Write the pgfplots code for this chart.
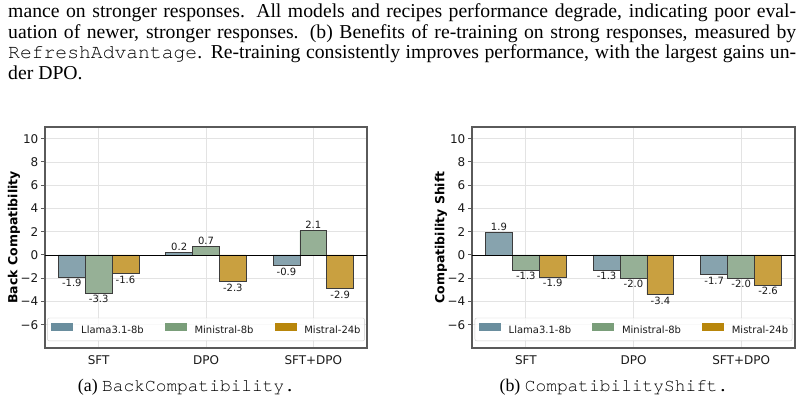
\documentclass[border=0pt]{standalone}
\usepackage{fontspec}
\setmainfont{Liberation Serif}
\setmonofont{TeX Gyre Cursor}
\newfontfamily\dejavu{DejaVu Sans}
\usepackage{pgfplots}
\pgfplotsset{compat=1.18}

\definecolor{llama}{HTML}{87A3AE}
\definecolor{llamaL}{HTML}{6A8E9E}
\definecolor{minis}{HTML}{96B096}
\definecolor{minisL}{HTML}{7A9E7A}
\definecolor{mistral}{HTML}{C9A040}
\definecolor{mistralL}{HTML}{B8860B}
\definecolor{edgegray}{HTML}{3C3C3C}
\definecolor{gridgray}{HTML}{E3E3E3}
\definecolor{framegray}{HTML}{5A5A5A}
\definecolor{legendgray}{HTML}{CCCCCC}
\definecolor{txt}{HTML}{1A1A1A}

\pgfplotsset{
  compatbars/.style={
    scale only axis, width=322pt, height=221pt,
    anchor=south west,
    xmin=-0.5, xmax=2.5, ymin=-8, ymax=11,
    ybar=0pt, bar width=0.25,
    xtick={0,1,2}, xticklabels={SFT,DPO,SFT+DPO},
    ytick={-6,-4,-2,0,2,4,6,8,10},
    yticklabels={−6,−4,−2,0,2,4,6,8,10},
    tick pos=left, tick align=outside, major tick length=4pt,
    xtick style={draw=none},
    ytick style={draw=framegray, line width=1pt},
    grid=major, major grid style={draw=gridgray, line width=0.8pt},
    axis line style={draw=framegray, line width=1.2pt},
    xticklabel style={font=\dejavu\fontsize{12}{14}\selectfont, text=txt,
      anchor=north, inner sep=0pt, yshift=-3.5pt},
    yticklabel style={font=\dejavu\fontsize{12}{14}\selectfont, text=txt,
      anchor=east, inner sep=0pt, xshift=-2.5pt},
    every axis y label/.style={at={(rel axis cs:0,0.5)}, xshift=-31pt,
      rotate=90, anchor=center,
      font=\dejavu\bfseries\fontsize{12.5}{14}\selectfont, text=black},
    % value labels: above positive bars, below negative ones
    nodes near coords, point meta=explicit symbolic,
    visualization depends on={rawy \as \rawy},
    every node near coord/.append style={font=\dejavu\fontsize{10}{12}\selectfont,
      text=txt, inner sep=1.8pt,
      anchor=\ifdim\rawy pt<0pt north\else south\fi},
    legend columns=3,
    legend style={at={(0.5,0.084)}, anchor=center, draw=legendgray,
      rounded corners=2pt, fill=white, fill opacity=0.8, text opacity=1,
      font=\dejavu\fontsize{10}{12}\selectfont, text=txt,
      inner xsep=4pt, inner ysep=5.5pt, nodes={inner sep=0pt},
      /tikz/every odd column/.append style={column sep=8pt},
      /tikz/every even column/.append style={column sep=21pt}},
  },
  llamabar/.style={fill=llama, draw=edgegray, line width=0.8pt,
    legend image code/.code={\fill[llamaL, sharp corners, fill opacity=1]
      (0pt,0pt) rectangle (21pt,7pt);}},
  minisbar/.style={fill=minis, draw=edgegray, line width=0.8pt,
    legend image code/.code={\fill[minisL, sharp corners, fill opacity=1]
      (0pt,0pt) rectangle (21pt,7pt);}},
  mistralbar/.style={fill=mistral, draw=edgegray, line width=0.8pt,
    legend image code/.code={\fill[mistralL, sharp corners, fill opacity=1]
      (0pt,0pt) rectangle (21pt,7pt);}},
}

\newcommand\bodyline[2]{%
  \node[anchor=base west, inner sep=0pt] at (8pt,#1)
    {\fontsize{19.7}{20.5}\selectfont\hbox to 788pt{#2}};}

\begin{document}
\begin{tikzpicture}
\path[fill=white, use as bounding box] (0pt,0pt) rectangle (804pt,-402pt);

% caption paragraph
\bodyline{-17.3pt}{mance on stronger responses.  All models and recipes performance degrade, indicating poor eval-}
\bodyline{-38pt}{uation of newer, stronger responses.  (b) Benefits of re-training on strong responses, measured by}
\bodyline{-58.8pt}{\texttt{RefreshAdvantage}. Re-training consistently improves performance, with the largest gains un-}
\node[anchor=base west, inner sep=0pt] at (8pt,-79.3pt)
  {\fontsize{19.7}{20.5}\selectfont der DPO.};

% (a) BackCompatibility
\begin{axis}[compatbars, at={(45pt,-348pt)}, ylabel={Back Compatibility}]
\addplot[llamabar] coordinates {(0,-1.9)[-1.9] (1,0.2)[0.2] (2,-0.9)[-0.9]};
\addplot[minisbar] coordinates {(0,-3.3)[-3.3] (1,0.7)[0.7] (2,2.1)[2.1]};
\addplot[mistralbar] coordinates {(0,-1.6)[-1.6] (1,-2.3)[-2.3] (2,-2.9)[-2.9]};
\legend{Llama3.1-8b, Ministral-8b, Mistral-24b}
\draw[black, line width=0.9pt] (axis cs:-0.5,0) -- (axis cs:2.5,0);
\end{axis}

% (b) CompatibilityShift
\begin{axis}[compatbars, at={(472pt,-348pt)}, width=323pt, ylabel={Compatibility Shift}]
\addplot[llamabar] coordinates {(0,1.9)[1.9] (1,-1.3)[-1.3] (2,-1.7)[-1.7]};
\addplot[minisbar] coordinates {(0,-1.3)[-1.3] (1,-2.0)[-2.0] (2,-2.0)[-2.0]};
\addplot[mistralbar] coordinates {(0,-1.9)[-1.9] (1,-3.4)[-3.4] (2,-2.6)[-2.6]};
\legend{Llama3.1-8b, Ministral-8b, Mistral-24b}
\draw[black, line width=0.9pt] (axis cs:-0.5,0) -- (axis cs:2.5,0);
\end{axis}

% sub-captions
\node[anchor=base, inner sep=0pt] at (186.5pt,-391.5pt)
  {\fontsize{17.85}{20}\selectfont (a) \texttt{BackCompatibility.}};
\node[anchor=base, inner sep=0pt] at (614pt,-391.5pt)
  {\fontsize{17.85}{20}\selectfont (b) \texttt{CompatibilityShift.}};
\end{tikzpicture}
\end{document}
